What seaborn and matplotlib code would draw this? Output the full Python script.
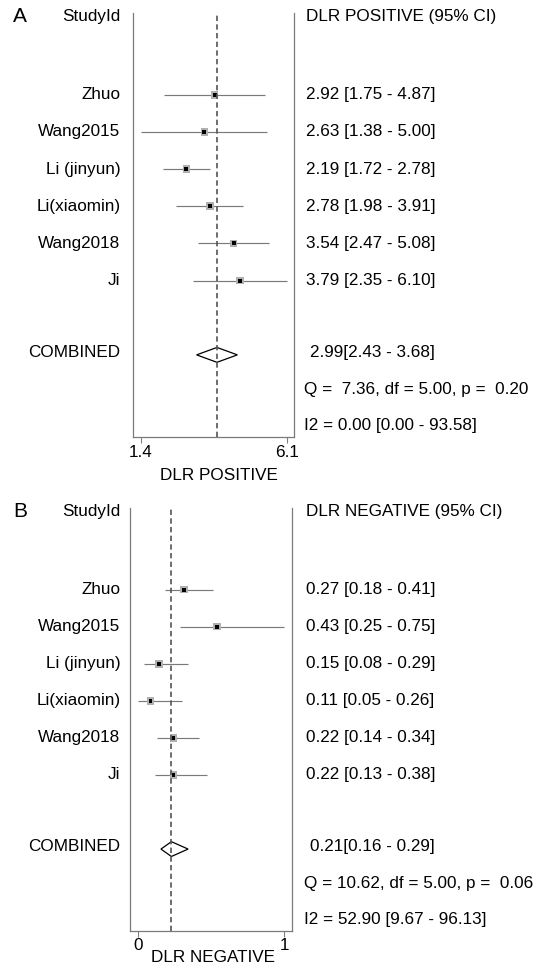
import numpy as np
import pandas as pd
import matplotlib
matplotlib.use("Agg")
import matplotlib.pyplot as plt
import matplotlib.transforms as mtransforms
from matplotlib.ticker import NullLocator, FixedLocator, FixedFormatter
import seaborn as sns

# ---------------- data ----------------
studies = ["Zhuo", "Wang2015", "Li (jinyun)", "Li(xiaomin)", "Wang2018", "Ji"]

pos_est = [2.92, 2.63, 2.19, 2.78, 3.54, 3.79]
pos_lo = [1.75, 1.38, 1.72, 1.98, 2.47, 2.35]
pos_hi = [4.87, 5.00, 2.78, 3.91, 5.08, 6.10]
pos_comb = [2.99, 2.43, 3.68]
pos_q = "Q =  7.36, df = 5.00, p =  0.20"
pos_i2 = "I2 = 0.00 [0.00 - 93.58]"
pos_ticks = [1.38, 6.10]
pos_ticklabels = ["1.4", "6.1"]

neg_est = [0.27, 0.43, 0.15, 0.11, 0.22, 0.22]
neg_lo = [0.18, 0.25, 0.08, 0.05, 0.14, 0.13]
neg_hi = [0.41, 0.75, 0.29, 0.26, 0.34, 0.38]
neg_comb = [0.21, 0.16, 0.29]
neg_q = "Q = 10.62, df = 5.00, p =  0.06"
neg_i2 = "I2 = 52.90 [9.67 - 96.13]"
neg_ticks = [0.05, 0.75]
neg_ticklabels = ["0", "1"]

sns.set_theme(style="white")
plt.rcParams['font.family'] = ['Liberation Sans', 'DejaVu Sans']
plt.rcParams['text.color'] = 'black'
plt.rcParams['axes.labelcolor'] = 'black'
plt.rcParams['xtick.color'] = 'black'

W, H = 538, 968
fig = plt.figure(figsize=(W / 100, H / 100), dpi=100)
FS = 12.3


def fx(px):
    return px / W


def panel(rect_px, letter, est, lo, hi, comb, q, i2, ticks, ticklabels,
          scale, xlim, header, xlabel, label_xy, tick_pad):
    l, t, r, b = rect_px
    ax = fig.add_axes([fx(l), 1 - b / H, (r - l) / W, (b - t) / H])
    ax.set_xscale(scale)
    df = pd.DataFrame({"study": studies, "est": est, "lo": lo, "hi": hi,
                       "row": np.arange(len(studies))})
    ax.hlines(df["row"], df["lo"], df["hi"], color="#7a7a7a", lw=0.85, zorder=2)
    sns.scatterplot(data=df, x="est", y="row", marker="s", s=30, color="#b0b0b0",
                    edgecolor="none", ax=ax, zorder=3, legend=False)
    sns.scatterplot(data=df, x="est", y="row", marker="s", s=8, color="black",
                    edgecolor="none", ax=ax, zorder=4, legend=False)
    crow = 7.0
    ax.fill([comb[1], comb[0], comb[2], comb[0]],
            [crow, crow - 0.2, crow, crow + 0.2],
            facecolor="white", edgecolor="black", lw=0.9, zorder=4)
    ax.axvline(comb[0], color="#555555", lw=1.2, linestyle=(0, (3.2, 2.0)), zorder=5)

    ax.set_xlim(*xlim)
    ax.set_ylim(9.21, -2.2)
    ax.set_yticks([])
    ax.xaxis.set_minor_locator(NullLocator())
    ax.xaxis.set_major_locator(FixedLocator(ticks))
    ax.xaxis.set_major_formatter(FixedFormatter(ticklabels))
    ax.tick_params(axis="x", bottom=True, direction="out", length=4, width=0.8,
                   color="#808080", labelsize=FS, pad=tick_pad, labelcolor="black")
    for s in ["left", "right", "bottom"]:
        ax.spines[s].set_visible(True)
        ax.spines[s].set_color("#7a7a7a")
        ax.spines[s].set_linewidth(0.9)
    ax.spines["top"].set_visible(False)
    ax.set_xlabel(xlabel, fontsize=FS, color="black")
    ax.xaxis.label.set_va("center")
    ax.xaxis.set_label_coords((label_xy[0] - l) / (r - l), (b - label_xy[1]) / (b - t))
    ax.set_ylabel("")

    tr = mtransforms.blended_transform_factory(fig.transFigure, ax.transData)
    ax.text(fx(13), -2.1, letter, transform=tr, fontsize=15, ha="left", va="center")
    ax.text(fx(120.5), -2.1, "StudyId", transform=tr, fontsize=FS, ha="right", va="center")
    ax.text(fx(306), -2.1, header, transform=tr, fontsize=FS, ha="left", va="center")
    for i, name in enumerate(studies):
        ax.text(fx(120.5), i, name, transform=tr, fontsize=FS, ha="right", va="center")
        ax.text(fx(306), i, f"{est[i]:.2f} [{lo[i]:.2f} - {hi[i]:.2f}]", transform=tr,
                fontsize=FS, ha="left", va="center")
    ax.text(fx(120.5), 6.94, "COMBINED", transform=tr, fontsize=FS, ha="right", va="center")
    ax.text(fx(310), 6.94, f"{comb[0]:.2f}[{comb[1]:.2f} - {comb[2]:.2f}]", transform=tr,
            fontsize=FS, ha="left", va="center")
    ax.text(fx(304), 7.92, q, transform=tr, fontsize=FS, ha="left", va="center")
    ax.text(fx(304), 8.9, i2, transform=tr, fontsize=FS, ha="left", va="center")
    return ax


panel((133.3, 13, 294.3, 437), "A", pos_est, pos_lo, pos_hi, pos_comb, pos_q, pos_i2,
      pos_ticks, pos_ticklabels, "log", (1.2757, 6.571), "DLR POSITIVE (95% CI)",
      "DLR POSITIVE", (219, 476), 2.0)
panel((130, 508, 292, 931), "B", neg_est, neg_lo, neg_hi, neg_comb, neg_q, neg_i2,
      neg_ticks, neg_ticklabels, "linear", (0.0116, 0.788), "DLR NEGATIVE (95% CI)",
      "DLR NEGATIVE", (212.6, 958), 0.8)

fig.savefig("out.png", dpi=100)
